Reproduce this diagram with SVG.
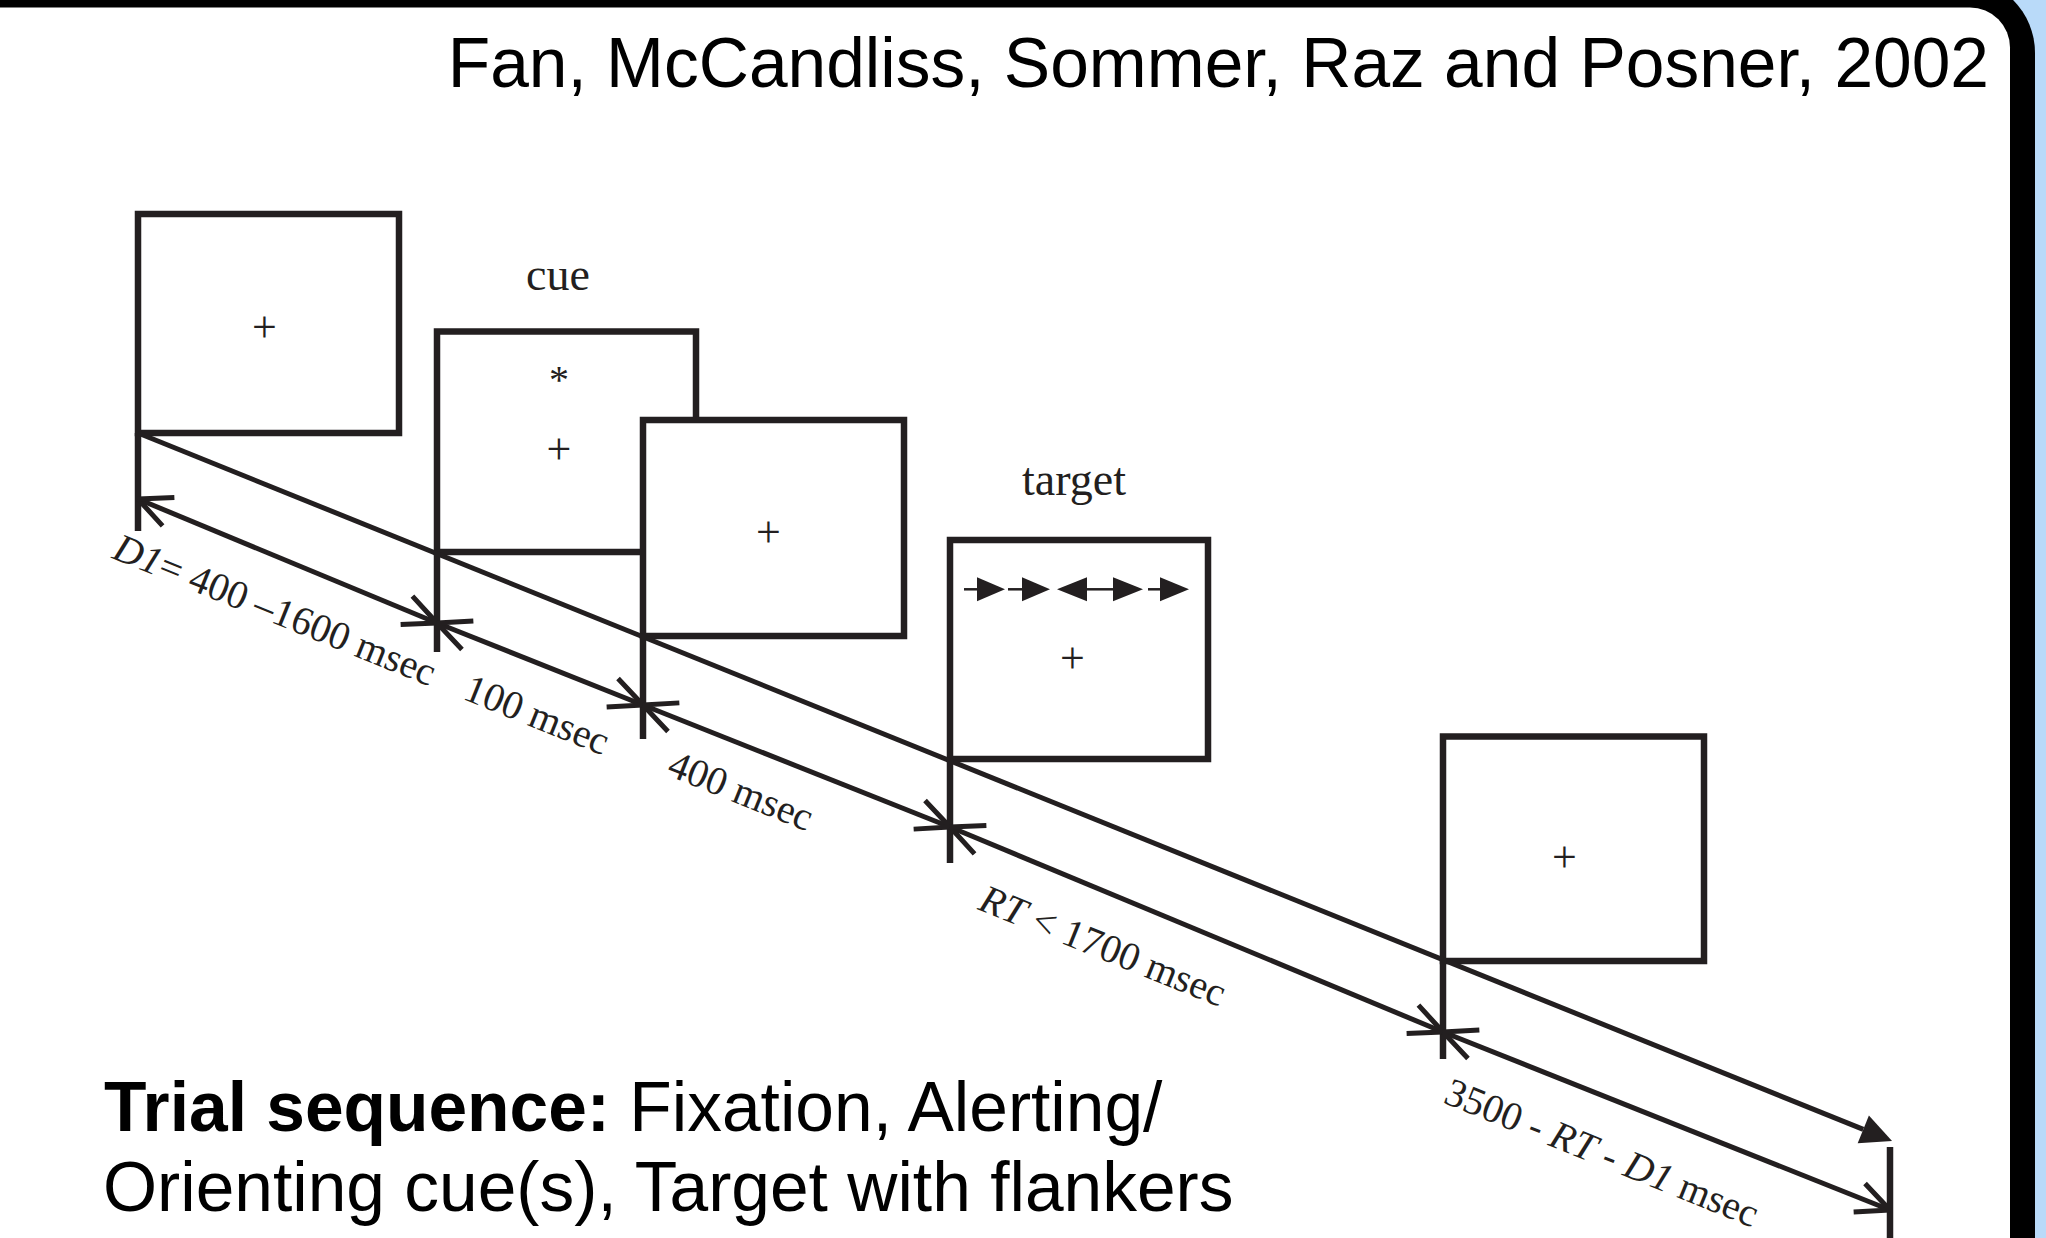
<svg xmlns="http://www.w3.org/2000/svg" width="2046" height="1238" viewBox="0 0 2046 1238">
  <style>
    .box { fill: #ffffff; stroke: #231f20; stroke-width: 6.5; }
    .tick { stroke: #231f20; stroke-width: 6.5; fill: none; }
    .dim { stroke: #231f20; stroke-width: 5; fill: none; marker-start: url(#open); marker-end: url(#open); }
    .main { stroke: #231f20; stroke-width: 5; fill: none; marker-end: url(#solid); }
    .sym { font-family: "Liberation Serif", "Times New Roman", serif; font-size: 44px; fill: #231f20; text-anchor: middle; }
    .head { font-family: "Liberation Serif", "Times New Roman", serif; font-size: 46px; fill: #231f20; text-anchor: middle; }
    .lbl { font-family: "Liberation Serif", "Times New Roman", serif; font-size: 40px; fill: #231f20; text-anchor: middle; }
    .sans { font-family: "Liberation Sans", Arial, sans-serif; font-size: 69.5px; fill: #000000; }
    .flk { stroke: #231f20; stroke-width: 2.5; fill: none; }
    .flt { fill: #231f20; }
  </style>
  <defs>
    <marker id="open" markerUnits="userSpaceOnUse" orient="auto-start-reverse" overflow="visible" markerWidth="40" markerHeight="40" refX="0" refY="0">
      <path d="M-33,-15.4 L0,0 M0,0 L-33,15.4" fill="none" stroke="#231f20" stroke-width="5"/>
    </marker>
    <marker id="solid" markerUnits="userSpaceOnUse" orient="auto" overflow="visible" markerWidth="40" markerHeight="40" refX="0" refY="0">
      <path d="M0,-15 L31,0 L0,15 Z" fill="#231f20"/>
    </marker>
  </defs>

  <!-- frame -->
  <g id="frame">
    <rect x="0" y="0" width="2046" height="1238" fill="#b9daf9"/>
    <path d="M0,-22 H1960 A75,75 0 0 1 2035,53 V1238 H0 Z" fill="#000000"/>
    <path d="M0,7.5 H1970 A40,40 0 0 1 2010,47.5 V1238 H0 Z" fill="#ffffff"/>
  </g>

  <g id="title">
    <text class="sans" x="1989" y="87" text-anchor="end">Fan, McCandliss, Sommer, Raz and Posner, 2002</text>
  </g>

  <g id="fixation1">
    <rect class="box" x="138" y="214" width="261" height="219"/>
    <text class="sym" x="264.5" y="342">+</text>
  </g>

  <g id="cue">
    <text class="head" x="558" y="290">cue</text>
    <rect class="box" x="437" y="331.5" width="259" height="220.5"/>
    <text class="sym" x="559" y="393" style="font-size:40px">*</text>
    <text class="sym" x="559" y="464">+</text>
  </g>

  <g id="fixation2">
    <rect class="box" x="643" y="420" width="261" height="216"/>
    <text class="sym" x="768.5" y="547">+</text>
  </g>

  <g id="target">
    <text class="head" x="1074" y="495">target</text>
    <rect class="box" x="950" y="540" width="258" height="219"/>
    <g id="flankers">
      <line class="flk" x1="964" y1="589.3" x2="978" y2="589.3"/>
      <polygon class="flt" points="977,577.3 1005,589.3 977,601.3"/>
      <line class="flk" x1="1008" y1="589.3" x2="1023" y2="589.3"/>
      <polygon class="flt" points="1022,577.3 1050,589.3 1022,601.3"/>
      <polygon class="flt" points="1087,577.3 1057,589.3 1087,601.3"/>
      <line class="flk" x1="1086" y1="589.3" x2="1114" y2="589.3"/>
      <polygon class="flt" points="1113,577.3 1143,589.3 1113,601.3"/>
      <line class="flk" x1="1148" y1="589.3" x2="1161" y2="589.3"/>
      <polygon class="flt" points="1160,577.3 1189,589.3 1160,601.3"/>
    </g>
    <text class="sym" x="1072.5" y="673">+</text>
  </g>

  <g id="fixation3">
    <rect class="box" x="1443" y="736.5" width="261" height="224.5"/>
    <text class="sym" x="1564.5" y="872">+</text>
  </g>

  <g id="connectors">
    <line class="main" x1="138" y1="433" x2="1863.3" y2="1129.4"/>
    <line class="tick" x1="138" y1="433" x2="138" y2="531"/>
    <line class="tick" x1="437" y1="552" x2="437" y2="652"/>
    <line class="tick" x1="643" y1="636" x2="643" y2="739"/>
    <line class="tick" x1="950" y1="759" x2="950" y2="863"/>
    <line class="tick" x1="1443" y1="961" x2="1443" y2="1059"/>
    <line class="tick" x1="1890" y1="1147" x2="1890" y2="1240"/>
    <line class="dim" x1="138" y1="499" x2="437" y2="623"/>
    <line class="dim" x1="437" y1="623" x2="643" y2="705"/>
    <line class="dim" x1="643" y1="705" x2="950" y2="827"/>
    <line class="dim" x1="950" y1="827" x2="1443" y2="1032"/>
    <line class="dim" x1="1443" y1="1032" x2="1890" y2="1210"/>
  </g>

  <g id="durations">
    <text class="lbl" transform="translate(270,622) rotate(22)"><tspan font-style="italic">D1</tspan>= 400 –1600 msec</text>
    <text class="lbl" transform="translate(532,727) rotate(22)">100 msec</text>
    <text class="lbl" transform="translate(736,803) rotate(22)">400 msec</text>
    <text class="lbl" transform="translate(1098,958) rotate(22)"><tspan font-style="italic">RT</tspan> &lt; 1700 msec</text>
    <text class="lbl" transform="translate(1597,1165) rotate(22)">3500 - <tspan font-style="italic">RT</tspan> - <tspan font-style="italic">D1</tspan> msec</text>
  </g>

  <g id="caption">
    <text class="sans" x="104" y="1131"><tspan font-weight="bold">Trial sequence:</tspan> Fixation, Alerting/</text>
    <text class="sans" x="103" y="1211">Orienting cue(s), Target with flankers</text>
  </g>
</svg>
